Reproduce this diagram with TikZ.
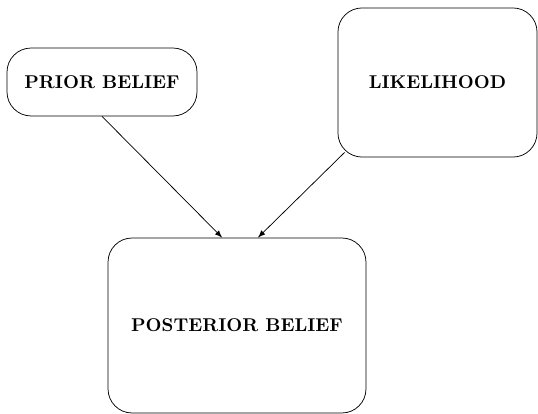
\documentclass[tikz,border=0pt]{standalone}
\usetikzlibrary{arrows}
\begin{document}
\begin{tikzpicture}[
		x=0.54pt, y=-0.54pt,
		belief/.style={draw, rounded corners=13pt, align=center, font=\bfseries, inner sep=0pt},
		arrow/.style={-latex, thin}
	]
	\useasboundingbox (0,0) rectangle (538,414);
	\node[belief, minimum width=102.6pt, minimum height=36.7pt] (prior) at (102,82) {PRIOR BELIEF};
	\node[belief, minimum width=107.5pt, minimum height=80.5pt] (likelihood) at (437.5,82.5) {LIKELIHOOD};
	\node[belief, minimum width=139.3pt, minimum height=94.5pt] (posterior) at (237,325.5) {POSTERIOR BELIEF};

	\draw[arrow] (prior.south) -- ([xshift=-8pt]posterior.north);
	\draw[arrow] ([shift={(3.8pt,2.7pt)}]likelihood.south west) -- ([xshift=11.3pt]posterior.north);
\end{tikzpicture}
\end{document}
